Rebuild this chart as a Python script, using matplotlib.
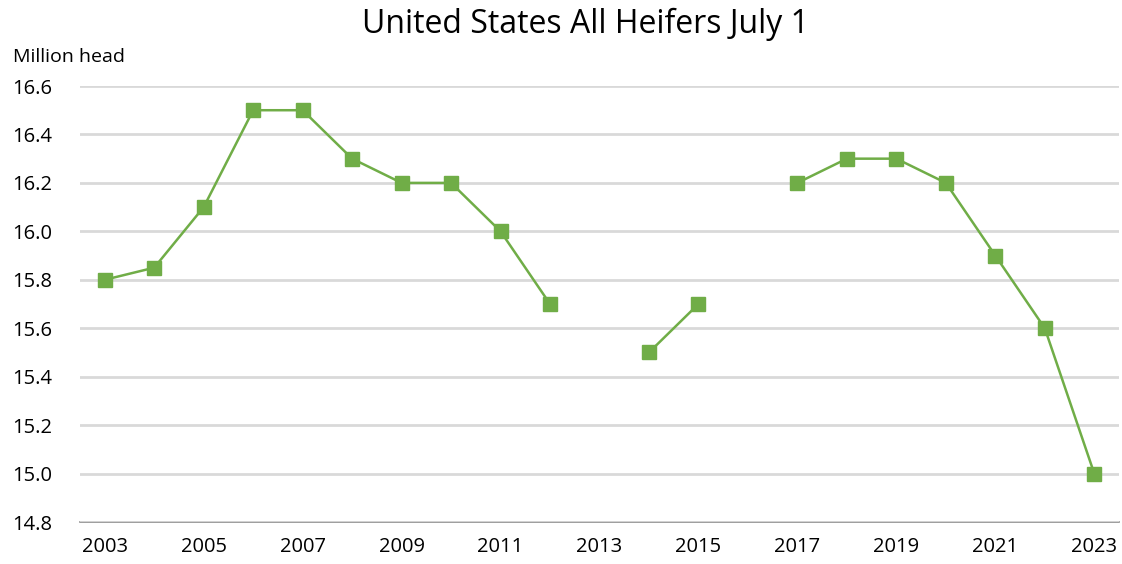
import matplotlib.pyplot as plt
import numpy as np

# Data (None = no survey that year)
years = list(range(2003, 2024))
heifers = [15.8, 15.85, 16.1, 16.5, 16.5, 16.3, 16.2, 16.2, 16.0, 15.7,
           None, 15.5, 15.7, None, 16.2, 16.3, 16.3, 16.2, 15.9, 15.6, 15.0]
tick_years = list(range(2003, 2024, 2))
y_ticks = [14.8, 15.0, 15.2, 15.4, 15.6, 15.8, 16.0, 16.2, 16.4, 16.6]

plt.rcParams['font.family'] = ['Open Sans', 'DejaVu Sans']

fig = plt.figure(figsize=(11.22, 5.64), dpi=100)
ax = fig.add_axes([80 / 1122, 1 - 522 / 564, 1039 / 1122, 436 / 564])

vals = np.array([np.nan if v is None else v for v in heifers], dtype=float)
green = '#70AD47'
ax.plot(years, vals, color=green, linewidth=1.8, marker='s',
        markersize=9.5, markerfacecolor=green, markeredgecolor=green)

ax.set_xlim(2002.5, 2023.5)
ax.set_ylim(14.8, 16.6)
ax.set_xticks(tick_years)
ax.set_yticks(y_ticks)
ax.set_yticklabels([f'{v:.1f}' for v in y_ticks])
ax.tick_params(axis='both', length=0, labelsize=14.5, colors='black')
ax.tick_params(axis='x', pad=11)
ax.tick_params(axis='y', pad=20)

ax.grid(axis='y', color='#D9D9D9', linewidth=2)
ax.set_axisbelow(True)
for side in ['top', 'right', 'left']:
    ax.spines[side].set_visible(False)
ax.spines['bottom'].set_color('#8C8C8C')
ax.spines['bottom'].set_linewidth(1.2)
ax.spines['bottom'].set_zorder(0.5)

fig.text(13 / 1122, 1 - 57 / 564, 'Million head', fontsize=14,
         ha='left', va='center')
fig.text(585 / 1122, 1 - 24 / 564, 'United States All Heifers July 1',
         fontsize=23, ha='center', va='center')

fig.savefig('out.png', dpi=100)
